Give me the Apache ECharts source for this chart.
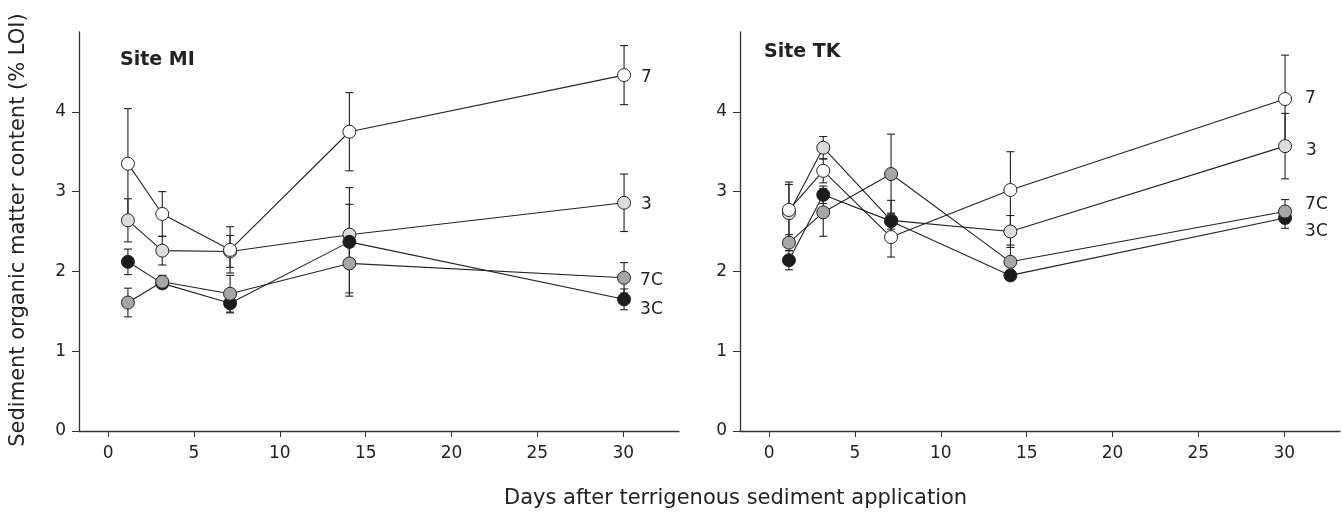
<!DOCTYPE html>
<html>
<head>
<meta charset="utf-8">
<title>Sediment organic matter content</title>
<script src="https://cdn.jsdelivr.net/npm/echarts@6/dist/echarts.min.js"></script>
<style>
html, body { margin: 0; padding: 0; background: #fff; }
#chart { width: 1343px; height: 512px; }
</style>
</head>
<body>
<div id="chart"></div>
<script>
var days = [1.15, 3.15, 7.1, 14.05, 30.05];
var xTicks = [0, 5, 10, 15, 20, 25, 30];
var yTicks = [0, 1, 2, 3, 4];
var names = ['7', '3', '7C', '3C'];
var fills = ['#ffffff', '#dcdcdc', '#a4a6a8', '#1c1c1c'];

// Site MI
var mi7 = [3.35, 2.72, 2.27, 3.75, 4.46];
var mi7Err = [0.69, 0.28, 0.29, 0.49, 0.37];
var mi3 = [2.64, 2.26, 2.25, 2.46, 2.86];
var mi3Err = [0.27, 0.18, 0.20, 0.38, 0.36];
var mi7C = [1.61, 1.87, 1.72, 2.10, 1.92];
var mi7CErr = [0.18, 0.08, 0.23, 0.37, 0.19];
var mi3C = [2.12, 1.85, 1.60, 2.37, 1.65];
var mi3CErr = [0.16, 0.06, 0.12, 0.68, 0.13];

// Site TK
var tk7 = [2.77, 3.26, 2.43, 3.02, 4.16];
var tk7Err = [0.35, 0.15, 0.25, 0.48, 0.55];
var tk3 = [2.73, 3.55, 2.64, 2.50, 3.57];
var tk3Err = [0.36, 0.14, 0.25, 0.20, 0.41];
var tk7C = [2.36, 2.74, 3.22, 2.12, 2.75];
var tk7CErr = [0.10, 0.30, 0.50, 0.21, 0.15];
var tk3C = [2.14, 2.96, 2.63, 1.95, 2.67];
var tk3CErr = [0.12, 0.11, 0.10, 0.06, 0.13];

var FONT = 'DejaVu Sans';
var INK = '#222';

function renderErr(params, api) { //error bar with caps
	var x = api.value(0);
	var y = api.value(1);
	var e = api.value(2);
	var top = api.coord([x, y + e]);
	var bot = api.coord([x, y - e]);
	var w = 4;
	var st = { stroke: INK, lineWidth: 1.1 };
	return {
		type: 'group',
		children: [
			{ type: 'line', shape: { x1: top[0], y1: top[1], x2: bot[0], y2: bot[1] }, style: st },
			{ type: 'line', shape: { x1: top[0] - w, y1: top[1], x2: top[0] + w, y2: top[1] }, style: st },
			{ type: 'line', shape: { x1: bot[0] - w, y1: bot[1], x2: bot[0] + w, y2: bot[1] }, style: st }
		]
	};
}

function make_series(idx, k, means, errs, offset, dist) {
	var errData = [];
	var lineData = [];
	for(var i = 0; i < days.length; i++) {
		errData.push([days[i], means[i], errs[i]]);
		if(i == days.length - 1) {
			lineData.push({
				value: [days[i], means[i]],
				label: {
					show: true,
					formatter: names[k],
					position: 'right',
					distance: dist,
					offset: offset,
					color: INK,
					fontFamily: FONT,
					fontSize: 17
				}
			});
		} else {
			lineData.push([days[i], means[i]]);
		}
	}
	return [{
		type: 'custom',
		xAxisIndex: idx,
		yAxisIndex: idx,
		renderItem: renderErr,
		encode: { x: 0, y: 1 },
		data: errData,
		z: 1,
		silent: true
	}, {
		type: 'line',
		name: names[k],
		xAxisIndex: idx,
		yAxisIndex: idx,
		data: lineData,
		symbol: 'circle',
		symbolSize: 13,
		lineStyle: { color: INK, width: 1.1 },
		itemStyle: { color: fills[k], borderColor: INK, borderWidth: 1 },
		z: 2,
		animation: false
	}];
}

function x_axis(idx) {
	return {
		type: 'value',
		gridIndex: idx,
		min: -1.7,
		max: 33.25,
		axisLine: { onZero: false, lineStyle: { color: '#333', width: 1.3 } },
		axisTick: { length: 6, customValues: xTicks, lineStyle: { color: '#333' } },
		axisLabel: { customValues: xTicks, margin: 14, color: INK, fontFamily: FONT, fontSize: 17 },
		splitLine: { show: false }
	};
}

function y_axis(idx) {
	return {
		type: 'value',
		gridIndex: idx,
		min: 0,
		max: 5,
		axisLine: { show: true, onZero: false, lineStyle: { color: '#333', width: 1.3 } },
		axisTick: { show: true, length: 7, customValues: yTicks, lineStyle: { color: '#333' } },
		axisLabel: { customValues: yTicks, margin: 13, color: INK, fontFamily: FONT, fontSize: 17 },
		splitLine: { show: false }
	};
}

// drawing order bottom -> top: 3, 3C, 7C, 7
var series = [];
series = series.concat(make_series(0, 1, mi3, mi3Err, [0, 2], 10));
series = series.concat(make_series(0, 3, mi3C, mi3CErr, [0, 10], 9));
series = series.concat(make_series(0, 2, mi7C, mi7CErr, [0, 3], 9));
series = series.concat(make_series(0, 0, mi7, mi7Err, [0, 2], 10));
series = series.concat(make_series(1, 1, tk3, tk3Err, [0, 4], 14));
series = series.concat(make_series(1, 3, tk3C, tk3CErr, [0, 14], 13));
series = series.concat(make_series(1, 2, tk7C, tk7CErr, [0, -7], 13));
series = series.concat(make_series(1, 0, tk7, tk7Err, [0, 0], 13));

var mychart = echarts.init(document.getElementById('chart'));
var option = {
	backgroundColor: '#fff',
	animation: false,
	grid: [
		{ left: 79, top: 32, width: 600, height: 399 },
		{ left: 740, top: 32, width: 600, height: 399 }
	],
	xAxis: [x_axis(0), x_axis(1)],
	yAxis: [y_axis(0), y_axis(1)],
	graphic: [{
		type: 'text', left: 120, top: 51,
		style: { text: 'Site MI', fill: INK, font: 'bold 19px "DejaVu Sans"' }
	}, {
		type: 'text', left: 764, top: 43,
		style: { text: 'Site TK', fill: INK, font: 'bold 19px "DejaVu Sans"' }
	}, {
		type: 'text', x: 504, y: 499,
		style: { text: 'Days after terrigenous sediment application', fill: INK, font: '21px "DejaVu Sans"', align: 'left', verticalAlign: 'middle' }
	}, {
		type: 'text', x: 19, y: 230, rotation: Math.PI / 2,
		style: { text: 'Sediment organic matter content (% LOI)', fill: INK, font: '21px "DejaVu Sans"', align: 'center', verticalAlign: 'middle' }
	}],
	series: series
};
mychart.setOption(option);
</script>
</body>
</html>
